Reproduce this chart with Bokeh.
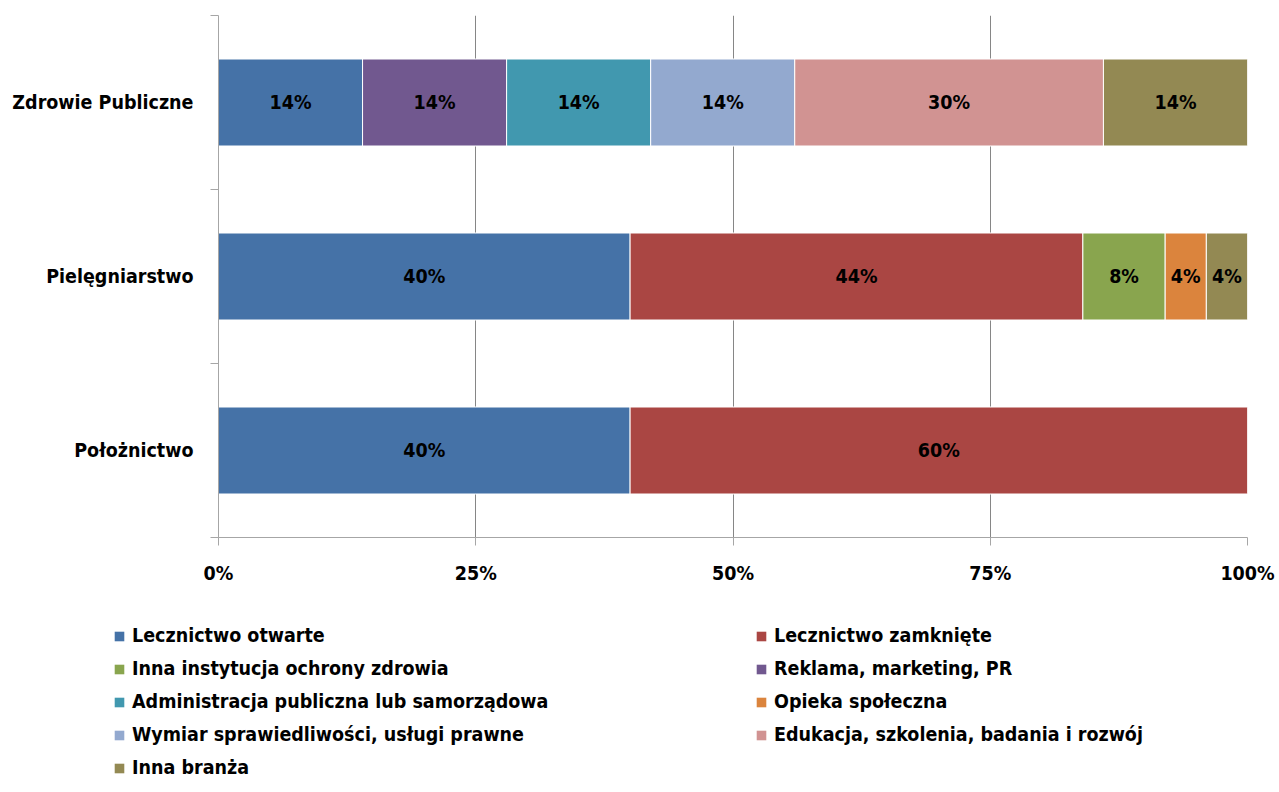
from bokeh.plotting import figure
from bokeh.layouts import column
from bokeh.models import Range1d, FixedTicker, Legend, LegendItem, ColumnDataSource
from bokeh.core.properties import value
from bokeh.embed import file_html
from bokeh.resources import INLINE

FONT = "DejaVu Sans Condensed"

categories = ["Zdrowie Publiczne", "Pielęgniarstwo", "Położnictwo"]
cat_pos = [2.5, 1.5, 0.5]

series_names = [
    "Lecznictwo otwarte",
    "Lecznictwo zamknięte",
    "Inna instytucja ochrony zdrowia",
    "Reklama, marketing, PR",
    "Administracja publiczna lub samorządowa",
    "Opieka społeczna",
    "Wymiar sprawiedliwości, usługi prawne",
    "Edukacja, szkolenia, badania i rozwój",
    "Inna branża",
]
colors = ["#4572A7", "#AA4643", "#89A54E", "#71588F", "#4198AF",
          "#DB843D", "#93A9CF", "#D19392", "#938953"]

lecznictwo_otwarte = [14, 40, 40]
lecznictwo_zamkniete = [0, 44, 60]
inna_instytucja = [0, 8, 0]
reklama = [14, 0, 0]
administracja = [14, 0, 0]
opieka = [0, 4, 0]
wymiar = [14, 0, 0]
edukacja = [30, 0, 0]
inna_branza = [14, 4, 0]

series_values = [lecznictwo_otwarte, lecznictwo_zamkniete, inna_instytucja, reklama,
                 administracja, opieka, wymiar, edukacja, inna_branza]

x_ticks = [0, 25, 50, 75, 100]
x_tick_labels = ["0%", "25%", "50%", "75%", "100%"]

FS = "19.5px"
W = 1279
H1 = 600
H2 = 190
p = figure(width=W, height=H1, output_backend="svg", toolbar_location=None,
           x_range=Range1d(0, 100), y_range=Range1d(0, 3),
           min_border_left=218, min_border_right=W - 1247,
           min_border_top=15, min_border_bottom=H1 - 537)
p.frame_align = False
p.outline_line_color = None
p.background_fill_color = "white"
p.border_fill_color = "white"

axis_color = "#a6a6a6"

# x axis
p.xaxis.ticker = FixedTicker(ticks=x_ticks)
p.xaxis.major_label_overrides = {t: l for t, l in zip(x_ticks, x_tick_labels)}
p.xaxis.axis_line_color = axis_color
p.xaxis.major_tick_line_color = axis_color
p.xaxis.major_tick_out = 8
p.xaxis.major_tick_in = 0
p.xaxis.minor_tick_line_color = None
p.xaxis.major_label_text_font = FONT
p.xaxis.major_label_text_font_style = "bold"
p.xaxis.major_label_text_font_size = FS
p.xaxis.major_label_text_color = "black"
p.xaxis.major_label_standoff = 16

# y axis
p.yaxis.ticker = FixedTicker(ticks=cat_pos, minor_ticks=[0, 1, 2, 3])
p.yaxis.major_label_overrides = {t: c for t, c in zip(cat_pos, categories)}
p.yaxis.axis_line_color = axis_color
p.yaxis.major_tick_line_color = None
p.yaxis.major_tick_out = 8
p.yaxis.major_tick_in = 0
p.yaxis.minor_tick_line_color = axis_color
p.yaxis.minor_tick_out = 8
p.yaxis.minor_tick_in = 0
p.yaxis.major_label_text_font = FONT
p.yaxis.major_label_text_font_style = "bold"
p.yaxis.major_label_text_font_size = FS
p.yaxis.major_label_text_color = "black"
p.yaxis.major_label_standoff = 17

p.xgrid.ticker = FixedTicker(ticks=x_ticks)
p.xgrid.grid_line_color = "#868686"
p.ygrid.grid_line_color = None

cum = [0.0, 0.0, 0.0]
lab_x, lab_y, lab_t = [], [], []
for name, col, vals in zip(series_names, colors, series_values):
    left, right, ys = [], [], []
    for i, v in enumerate(vals):
        if v > 0:
            left.append(cum[i])
            right.append(cum[i] + v)
            ys.append(cat_pos[i])
            lab_x.append(cum[i] + v / 2)
            lab_y.append(cat_pos[i])
            lab_t.append(f"{v}%")
        cum[i] += v
    src = ColumnDataSource(dict(y=ys, left=left, right=right))
    p.hbar(y="y", left="left", right="right", height=0.5, source=src,
           fill_color=col, line_color="white", line_width=1)

p.text(x=lab_x, y=lab_y, text=lab_t, text_align="center", text_baseline="middle",
       text_font=value(FONT), text_font_style="bold", text_font_size=FS,
       text_color="black")

# legend panel
lf = figure(width=W, height=H2, output_backend="svg", toolbar_location=None,
            x_range=Range1d(0, 1), y_range=Range1d(0, 1),
            min_border=0, min_border_left=0, min_border_right=0,
            min_border_top=0, min_border_bottom=0)
lf.frame_align = False
lf.axis.visible = False
lf.grid.visible = False
lf.outline_line_color = None
items = []
for name, col in zip(series_names, colors):
    # legend swatch carrier (kept outside the visible range)
    r = lf.hbar(y=[-5], left=[-5], right=[-4], height=1, fill_color=col, line_color=None)
    items.append(LegendItem(label=name, renderers=[r]))

SPACING = 10
legend = Legend(items=items, orientation="horizontal", ncols=2,
                location=(113, 11))
legend.border_line_color = None
legend.background_fill_alpha = 0
legend.padding = 0
legend.margin = 0
legend.glyph_width = 12
legend.glyph_height = 12
legend.label_standoff = 7
legend.label_height = 20
legend.spacing = SPACING
legend.label_width = 642 - 12 - 7 - SPACING
legend.label_text_font = FONT
legend.label_text_font_style = "bold"
legend.label_text_font_size = FS
legend.label_text_color = "black"
legend.click_policy = "none"
lf.add_layout(legend, "center")

layout = column(p, lf, spacing=0)
open("out.html", "w").write(file_html(layout, INLINE))
